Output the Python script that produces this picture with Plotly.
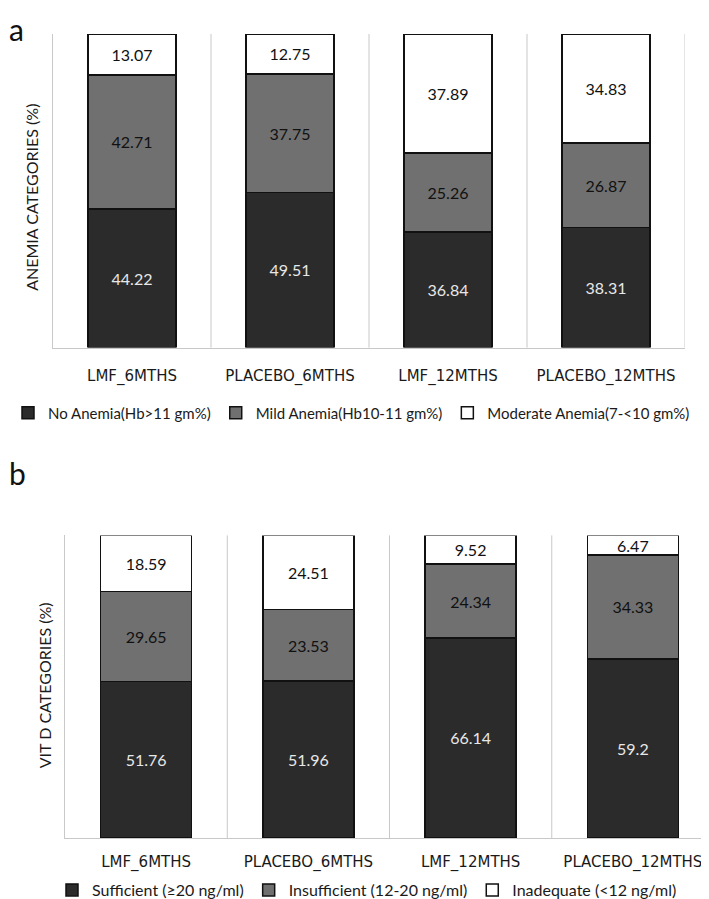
import plotly.graph_objects as go

categories = ["LMF_6MTHS", "PLACEBO_6MTHS", "LMF_12MTHS", "PLACEBO_12MTHS"]

# Panel a: anemia categories (%)
anemia_none = [44.22, 49.51, 36.84, 38.31]
anemia_mild = [42.71, 37.75, 25.26, 26.87]
anemia_moderate = [13.07, 12.75, 37.89, 34.83]
anemia_names = ["No Anemia(Hb>11 gm%)", "Mild Anemia(Hb10-11 gm%)", "Moderate Anemia(7-<10 gm%)"]

# Panel b: vitamin D categories (%)
vitd_sufficient = [51.76, 51.96, 66.14, 59.2]
vitd_insufficient = [29.65, 23.53, 24.34, 34.33]
vitd_inadequate = [18.59, 24.51, 9.52, 6.47]
vitd_names = ["Sufficient (≥20 ng/ml)", "Insufficient (12-20 ng/ml)", "Inadequate (<12 ng/ml)"]

fill_colors = ["#2b2b2b", "#707070", "#ffffff"]
text_colors = ["#e8e8e8", "#111111", "#111111"]

W, H = 709, 899
fig = go.Figure()

def add_panel(series_list, names, xaxis, yaxis, legend):
    for vals, name, fc, tc in zip(series_list, names, fill_colors, text_colors):
        fig.add_trace(go.Bar(
            x=categories, y=vals, name=name,
            xaxis=xaxis, yaxis=yaxis, legend=legend,
            marker=dict(color=fc, line=dict(color="#111111", width=1.5)),
            width=0.56,
            text=vals, texttemplate="%{y}",
            textposition="inside", insidetextanchor="middle",
            textangle=0, constraintext="none",
            textfont=dict(family="Lato", size=16, color=tc),
            hoverinfo="skip",
        ))

add_panel([anemia_none, anemia_mild, anemia_moderate], anemia_names, "x", "y", "legend")
add_panel([vitd_sufficient, vitd_insufficient, vitd_inadequate], vitd_names, "x2", "y2", "legend2")

def px_x(p):
    return p / W

def px_y(p):
    return 1 - p / H

axis_common = dict(showgrid=False, zeroline=False, linecolor="#c8c8c8", linewidth=1, showline=True)
tickfont = dict(family="DejaVu Sans", size=15, color="#1a1a1a")

fig.update_layout(
    width=W, height=H,
    margin=dict(l=0, r=0, t=0, b=0),
    paper_bgcolor="white", plot_bgcolor="white",
    barmode="stack", bargap=0.44,
    xaxis=dict(domain=[px_x(45), px_x(677)], anchor="y", range=[-0.5, 3.5],
               tickfont=tickfont, ticks="", ticklabelstandoff=14, **axis_common),
    yaxis=dict(domain=[px_y(340), px_y(26)], anchor="x", range=[0, 100],
               showticklabels=False, ticks="", **axis_common),
    xaxis2=dict(domain=[px_x(57), px_x(706)], anchor="y2", range=[-0.5, 3.5],
                tickfont=tickfont, ticks="", ticklabelstandoff=10, **axis_common),
    yaxis2=dict(domain=[px_y(831), px_y(528)], anchor="x2", range=[0, 100],
                showticklabels=False, ticks="", **axis_common),
    legend=dict(orientation="h", x=px_x(0), xanchor="left", y=px_y(405), yanchor="middle",
                font=dict(family="Lato", size=15, color="#1a1a1a"), traceorder="normal",
                itemwidth=30, bgcolor="rgba(0,0,0,0)"),
    legend2=dict(orientation="h", x=px_x(44), xanchor="left", y=px_y(883), yanchor="middle",
                 font=dict(family="Lato", size=16, color="#1a1a1a"), traceorder="normal",
                 itemwidth=30, bgcolor="rgba(0,0,0,0)"),
    showlegend=True,
)

# category divider lines
for xr, yr in [("x", "y domain"), ("x2", "y2 domain")]:
    for xv in [0.5, 1.5, 2.5, 3.5]:
        fig.add_shape(type="line", xref=xr, yref=yr, x0=xv, x1=xv, y0=0, y1=1,
                      line=dict(color="#c8c8c8", width=1), layer="below")

# panel letters
fig.add_annotation(text="a", xref="paper", yref="paper", x=px_x(0), y=px_y(21),
                   xanchor="left", yanchor="middle", showarrow=False, borderpad=0,
                   font=dict(family="Lato", size=30, color="#111111"))
fig.add_annotation(text="b", xref="paper", yref="paper", x=px_x(0), y=px_y(466),
                   xanchor="left", yanchor="middle", showarrow=False, borderpad=0,
                   font=dict(family="Lato", size=30, color="#111111"))

# y-axis titles
fig.add_annotation(text="ANEMIA CATEGORIES (%)", xref="paper", yref="paper",
                   x=px_x(24), y=px_y(190), textangle=-90, showarrow=False,
                   xanchor="center", yanchor="middle",
                   font=dict(family="Lato", size=16, color="#1a1a1a"))
fig.add_annotation(text="VIT D CATEGORIES (%)", xref="paper", yref="paper",
                   x=px_x(36), y=px_y(678), textangle=-90, showarrow=False,
                   xanchor="center", yanchor="middle",
                   font=dict(family="Lato", size=16, color="#1a1a1a"))

fig.write_html("out.html")
